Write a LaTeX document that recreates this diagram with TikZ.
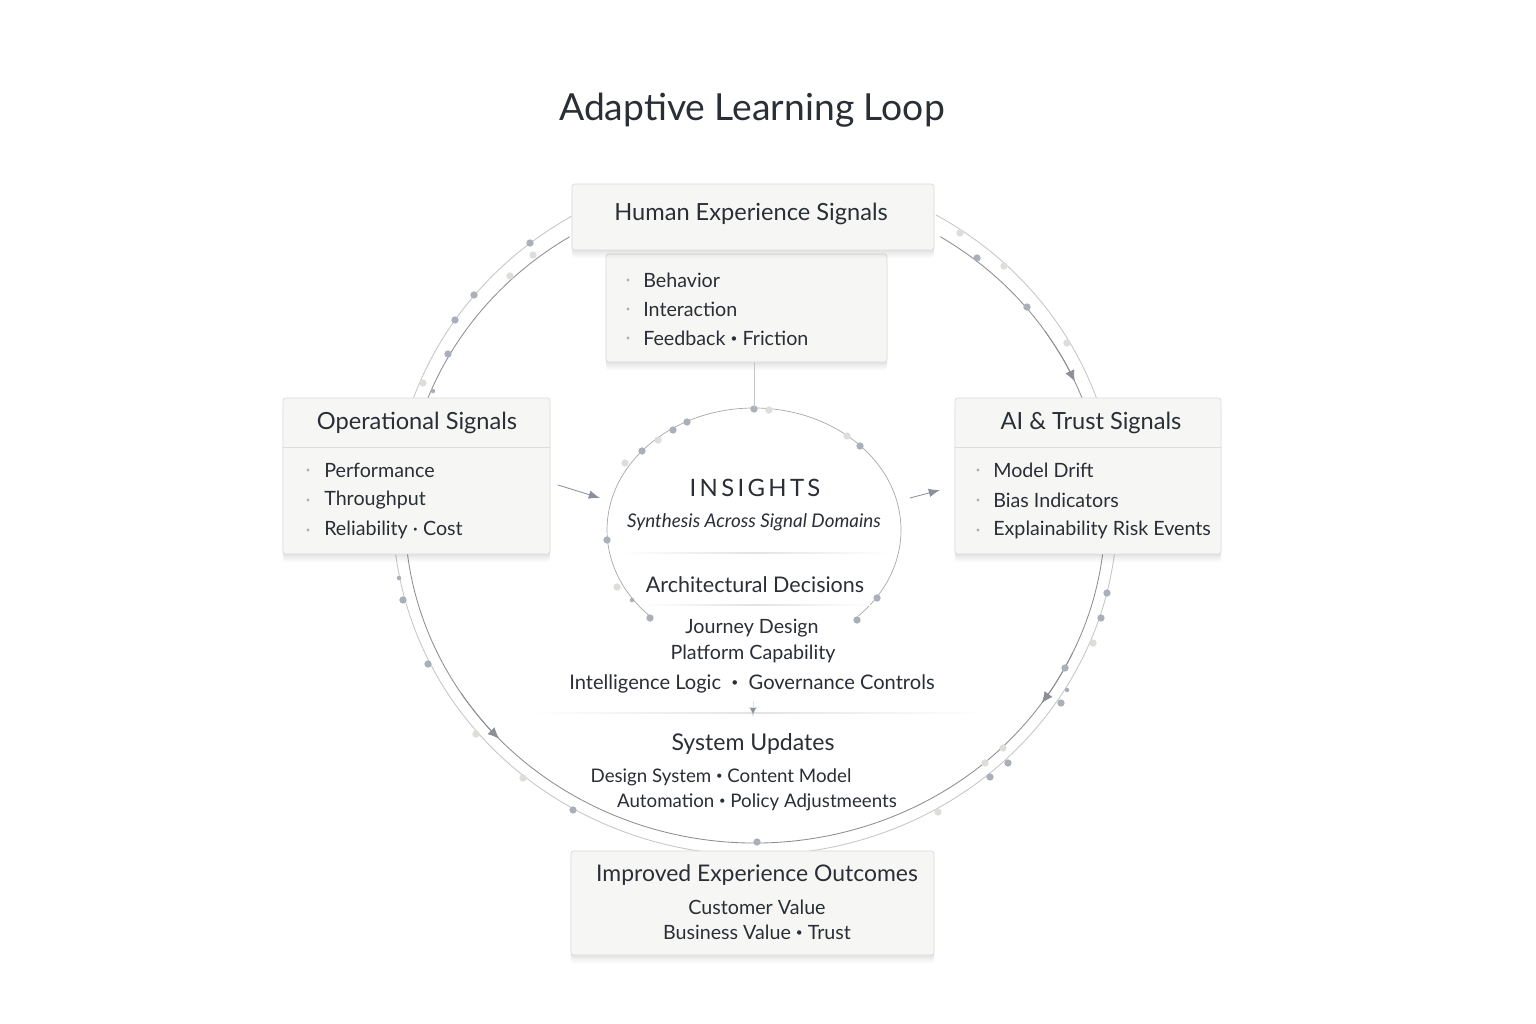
\documentclass[tikz,border=0pt]{standalone}
\usepackage{fontspec}
\setmainfont{Lato}
\newfontfamily\spacedfont[LetterSpace=14]{Lato}
\usetikzlibrary{arrows.meta}
\definecolor{ink}{HTML}{2A2E35}
\definecolor{cardfill}{HTML}{F6F6F4}
\definecolor{cardline}{HTML}{DCDCD8}
\definecolor{ringdark}{HTML}{8E8E8E}
\definecolor{ringlight}{HTML}{C6C6C6}
\definecolor{dotblue}{HTML}{AAB0BA}
\definecolor{dotlight}{HTML}{DDDDD9}
\definecolor{arrowgray}{HTML}{8A909B}
\newcommand\dotsep{\ \raisebox{.14em}{\scalebox{.6}{•}}\ }
\tikzset{
  card/.style={draw=cardline, fill=cardfill, rounded corners=2pt, line width=.5pt, inner sep=0pt,
    preaction={fill=black, fill opacity=.03, transform canvas={yshift=-1.5pt}},
    preaction={fill=black, fill opacity=.03, transform canvas={yshift=-3pt}},
    preaction={fill=black, fill opacity=.025, transform canvas={yshift=-4.5pt}},
    preaction={fill=black, fill opacity=.02, transform canvas={yshift=-6pt}}},
  cardtitle/.style={text=ink, inner sep=0pt, font=\fontsize{16.8}{19}\selectfont},
  item/.style={anchor=west, text=ink, inner sep=0pt, font=\fontsize{14}{16}\selectfont},
  midtext/.style={text=ink, inner sep=0pt, font=\fontsize{14}{16}\selectfont},
  rule/.style={left color=white, right color=white, middle color=black!11}
}
\begin{document}
\begin{tikzpicture}[x=0.025cm, y=-0.025cm, line join=round, line cap=round, >=Latex]
\useasboundingbox (0,0) rectangle (1536,1024);
\fill[white] (0,0) rectangle (1536,1024);
\node[text=ink, font=\fontsize{26.5}{30}\selectfont] (title) at (752,110) {Adaptive Learning Loop};
% loop rings
\draw[ringlight, line width=.6pt] (755,512) ++(-60:362 and 343) arc[start angle=-60, end angle=240, x radius=362, y radius=343];
\draw[ringdark, line width=.6pt] (755,515) ++(-58:350 and 328) arc[start angle=-58, end angle=238, x radius=350, y radius=328];
\foreach \a/\b in {-34/-24, 147/137, 25/35}
  \draw[ringdark, line width=.6pt, -{Latex[length=8pt,width=7pt,fill=arrowgray]}] (755,515) ++(\a:350 and 328) arc[start angle=\a, end angle=\b, x radius=350, y radius=328];
% insights arc
\draw[ringlight!85!black, line width=.5pt] (754,530) ++(135:147 and 122) arc[start angle=135, end angle=405, x radius=147, y radius=122];
\coordinate (instop) at (754,408);
\shade[rule] (620,552.5) rectangle (890,553.5);
\shade[rule] (640,604.5) rectangle (870,605.5);
\shade[rule] (530,712.5) rectangle (985,713.5);
% dots
\foreach \p in {(530,243),(474,295),(455,320),(448,354),(977,258),(1027,307),(403,600),(428,664),(573,810),(1107,593),(1101,618),(1065,668),(1061,703),(1008,763),(990,777),(757,842),(754,409),(687,422),(673,430),(642,451),(607,540),(860,446),(877,598),(857,620),(650,618)}
  \fill[dotblue] \p circle (2.6pt);
\foreach \p in {(533,255),(510,276),(423,383),(960,233),(1004,266),(1067,343),(476,734),(523,778),(1093,643),(1003,748),(985,763),(938,812),(769,410),(658,440),(625,463),(847,436),(617,587)}
  \fill[dotlight] \p circle (2.6pt);
\foreach \p in {(433,391),(399,578),(1067,690),(754,855),(632,600)}
  \fill[dotblue] \p circle (1.6pt);
% cards
\node[card, minimum width=7.025cm, minimum height=2.7cm] (hesbody) at (746.5,308) {};
\node[card, minimum width=9.05cm, minimum height=1.65cm] (hes) at (753,217) {};
\node[cardtitle] at (751,214) {Human Experience Signals};
\foreach \t [count=\i] in {Behavior, Interaction, Feedback\dotsep Friction} {
  \fill[dotblue] (628,{251+29*\i}) circle (1.2pt);
  \node[item] (hes\i) at (643,{251+29*\i}) {\t};
}
\node[card, minimum width=6.675cm, minimum height=3.9cm] (ops) at (416.5,476) {};
\draw[cardline] (283,447) -- (550,447);
\node[cardtitle] at (417,423) {Operational Signals};
\foreach \t [count=\i] in {Performance, Throughput, Reliability · Cost} {
  \fill[dotblue] (308,{440+30*\i}) circle (1.2pt);
  \node[item] (ops\i) at (324,{440+30*\i}) {\t};
}
\node[card, minimum width=6.65cm, minimum height=3.9cm] (ait) at (1088,476) {};
\draw[cardline] (955,447) -- (1221,447);
\node[cardtitle] at (1091,423) {AI \& Trust Signals};
\foreach \t [count=\i] in {Model Drift, Bias Indicators, Explainability Risk Events} {
  \fill[dotblue] (978,{440+30*\i}) circle (1.2pt);
  \node[item] (ait\i) at (993,{440+30*\i}) {\t};
}
\node[card, minimum width=9.075cm, minimum height=2.6cm] (ieo) at (752.5,903) {};
\node[cardtitle, font=\fontsize{16.3}{19}\selectfont] (ieot) at (757,875) {Improved Experience Outcomes};
\node[midtext] (ieo1) at (757,907) {Customer Value};
\node[midtext] (ieo2) at (757,932) {Business Value\dotsep Trust};
% centre
\draw[ringlight, line width=.5pt] (instop |- hesbody.south) -- (instop);
\node[text=ink, font=\spacedfont\fontsize{17}{20}\selectfont] (ins) at (755,488) {INSIGHTS};
\node[midtext, font=\itshape\fontsize{13.4}{15}\selectfont] (insub) at (754,522) {Synthesis Across Signal Domains};
\node[text=ink, font=\fontsize{15.3}{17}\selectfont] (arch) at (755,585) {Architectural Decisions};
\node[midtext] (arch1) at (752,628) {Journey Design};
\node[midtext] (arch2) at (753,654) {Platform Capability};
\node[midtext, font=\fontsize{14.3}{16}\selectfont] (arch3) at (752,684) {Intelligence Logic\ \dotsep\ Governance Controls};
\node[text=ink, font=\fontsize{16.4}{18}\selectfont] (sys) at (753,744) {System Updates};
\node[midtext, font=\fontsize{13.3}{15}\selectfont] (sys1) at (721,777) {Design System\dotsep Content Model};
\node[midtext, font=\fontsize{13.3}{15}\selectfont] (sys2) at (757,802) {Automation\dotsep Policy Adjustmeents};
\coordinate (opsout) at (558,485);
\coordinate (insin) at (600,498);
\coordinate (insout) at (910,498);
\coordinate (aitin) at (940,490);
\coordinate (archdown) at (753,701);
\coordinate (sysin) at (753,717);
\draw[arrowgray, line width=.6pt, -{Latex[length=8pt,width=6pt]}] (opsout) -- (insin);
\draw[arrowgray, line width=.6pt, -{Latex[length=8pt,width=6pt]}] (insout) -- (aitin);
\draw[black!12, line width=.5pt, -{Latex[length=7pt,width=6pt,fill=arrowgray]}] (archdown) -- (sysin);
\end{tikzpicture}
\end{document}
